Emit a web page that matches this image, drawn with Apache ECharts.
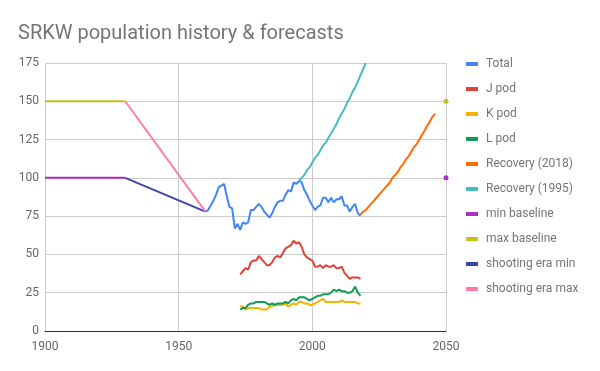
<!DOCTYPE html>
<html>
<head>
<meta charset="utf-8">
<script src="https://cdn.jsdelivr.net/npm/echarts@6/dist/echarts.min.js"></script>
<style>html,body{margin:0;padding:0;background:#fff}#c{width:600px;height:371px}</style>
</head>
<body>
<div id="c"></div>
<script>
// Years and values
const totalYears = [1960,1961,1962,1963,1964,1965,1966,1967,1968,1969,1970,1971,1972,1973,1974,1975,1976,1977,1978,1979,1980,1981,1982,1983,1984,1985,1986,1987,1988,1989,1990,1991,1992,1993,1994,1995,1996,1997,1998,1999,2000,2001,2002,2003,2004,2005,2006,2007,2008,2009,2010,2011,2012,2013,2014,2015,2016,2017,2018];
const totalValues = [78,79,82,85,89,94,95,96,88,81,80,67,70,66,71,70,71,79,79,81,83,81,78,76,74,77,81,84,85,85,89,92,91,97,96,98,97,92,89,85,82,79,81,82,87,87,84,87,84,86,86,88,82,82,78,81,83,77,75];

const podYears = [1973,1974,1975,1976,1977,1978,1979,1980,1981,1982,1983,1984,1985,1986,1987,1988,1989,1990,1991,1992,1993,1994,1995,1996,1997,1998,1999,2000,2001,2002,2003,2004,2005,2006,2007,2008,2009,2010,2011,2012,2013,2014,2015,2016,2017,2018];
const jPod = [37,39,41,40,45,46,46,49,47,45,43,43,45,48,49,48,51,54,55,56,59,57,58,55,50,48,47,46,42,42,43,41,43,42,42,43,41,41,42,38,36,34,35,35,35,34];
const kPod = [16,16,14,15,15,15,15,15,14,14,14,16,16,17,17,17,17,18,16,17,18,17,19,19,18,18,17,17,18,19,20,21,19,19,19,19,19,19,20,19,19,19,19,19,18,18];
const lPod = [14,15,15,17,18,18,19,19,19,19,18,17,18,17,18,18,18,19,18,20,21,20,22,22,22,21,20,21,22,23,23,24,24,24,25,27,26,27,26,26,25,25,26,29,25,23];

const rec2018Years = [2018,2019,2020,2021,2022,2023,2024,2025,2026,2027,2028,2029,2030,2031,2032,2033,2034,2035,2036,2037,2038,2039,2040,2041,2042,2043,2044,2045,2046];
const rec2018Values = [76,78,79,81,83,85,87,89,91,93,95,97,100,102,104,107,109,112,114,117,120,122,125,128,131,134,137,140,142];

const rec1995Years = [1995,1996,1997,1998,1999,2000,2001,2002,2003,2004,2005,2006,2007,2008,2009,2010,2011,2012,2013,2014,2015,2016,2017,2018,2019,2020];
const rec1995Values = [98,100,102,105,107,110,113,115,118,121,123,126,129,132,135,139,142,145,149,152,156,159,163,167,171,175];

const baselineYears = [1900,1930,2050];
const minBaseline = [100,100,100];
const maxBaseline = [150,150,150];

const shootingYears = [1930,1960];
const shootingMin = [100,78];
const shootingMax = [150,78];

const xTicks = [1900,1950,2000,2050];
const yTicks = [0,25,50,75,100,125,150,175];

function pairs(xs, ys){ return xs.map((x,i)=>[x, ys[i]]); }
function baseline(ys){
  return [[baselineYears[0], ys[0]], [baselineYears[1], ys[1]], '-',
    {value:[baselineYears[2], ys[2]], symbol:'circle', symbolSize:5}];
}

const colors = ['#4285F4','#DB4437','#F4B400','#0F9D58','#FF6D01','#46BDC6','#AB30C4','#C6BE1E','#3949AB','#FF7BAC'];

function lineSeries(name, data, extra){
  return Object.assign({
    name, type:'line', data, showSymbol:false, symbol:'none',
    lineStyle:{width:2}, emphasis:{disabled:true}, animation:false, clip:true
  }, extra||{});
}

const chart = echarts.init(document.getElementById('c'), null, {renderer:'canvas'});
chart.setOption({
  color: colors,
  animation:false,
  title:{
    text:'SRKW population history & forecasts',
    left:13, top:19,
    textStyle:{fontFamily:'Roboto', fontSize:20, fontWeight:'normal', color:'#757575'}
  },
  legend:{
    orient:'vertical', left:466, top:58, itemGap:13, padding:0,
    icon:'rect', itemWidth:12, itemHeight:4,
    textStyle:{fontFamily:'Roboto', fontSize:12, color:'#757575', padding:[0,0,0,3]},
    selectedMode:false
  },
  grid:{left:45, right:154, top:63, bottom:40, containLabel:false},
  xAxis:{
    type:'value', min:1900, max:2050, interval:50,
    axisLine:{show:true, lineStyle:{color:'#333', width:1}},
    axisTick:{show:false},
    axisLabel:{color:'#666', fontFamily:'Roboto', fontSize:12, margin:10,
      formatter: v => String(v)},
    splitLine:{show:true, lineStyle:{color:'#ccc'}}
  },
  yAxis:{
    type:'value', min:0, max:175, interval:25,
    axisLine:{show:false}, axisTick:{show:false},
    axisLabel:{color:'#666', fontFamily:'Roboto', fontSize:12, margin:6},
    splitLine:{show:true, lineStyle:{color:'#ccc'}}
  },
  series:[
    lineSeries('Total', pairs(totalYears, totalValues)),
    lineSeries('J pod', pairs(podYears, jPod)),
    lineSeries('K pod', pairs(podYears, kPod)),
    lineSeries('L pod', pairs(podYears, lPod)),
    lineSeries('Recovery (2018)', pairs(rec2018Years, rec2018Values)),
    lineSeries('Recovery (1995)', pairs(rec1995Years, rec1995Values)),
    lineSeries('min baseline', baseline(minBaseline), {showSymbol:true, clip:false, connectNulls:false}),
    lineSeries('max baseline', baseline(maxBaseline), {showSymbol:true, clip:false, connectNulls:false}),
    lineSeries('shooting era min', pairs(shootingYears, shootingMin)),
    lineSeries('shooting era max', pairs(shootingYears, shootingMax))
  ]
});
</script>
</body>
</html>
